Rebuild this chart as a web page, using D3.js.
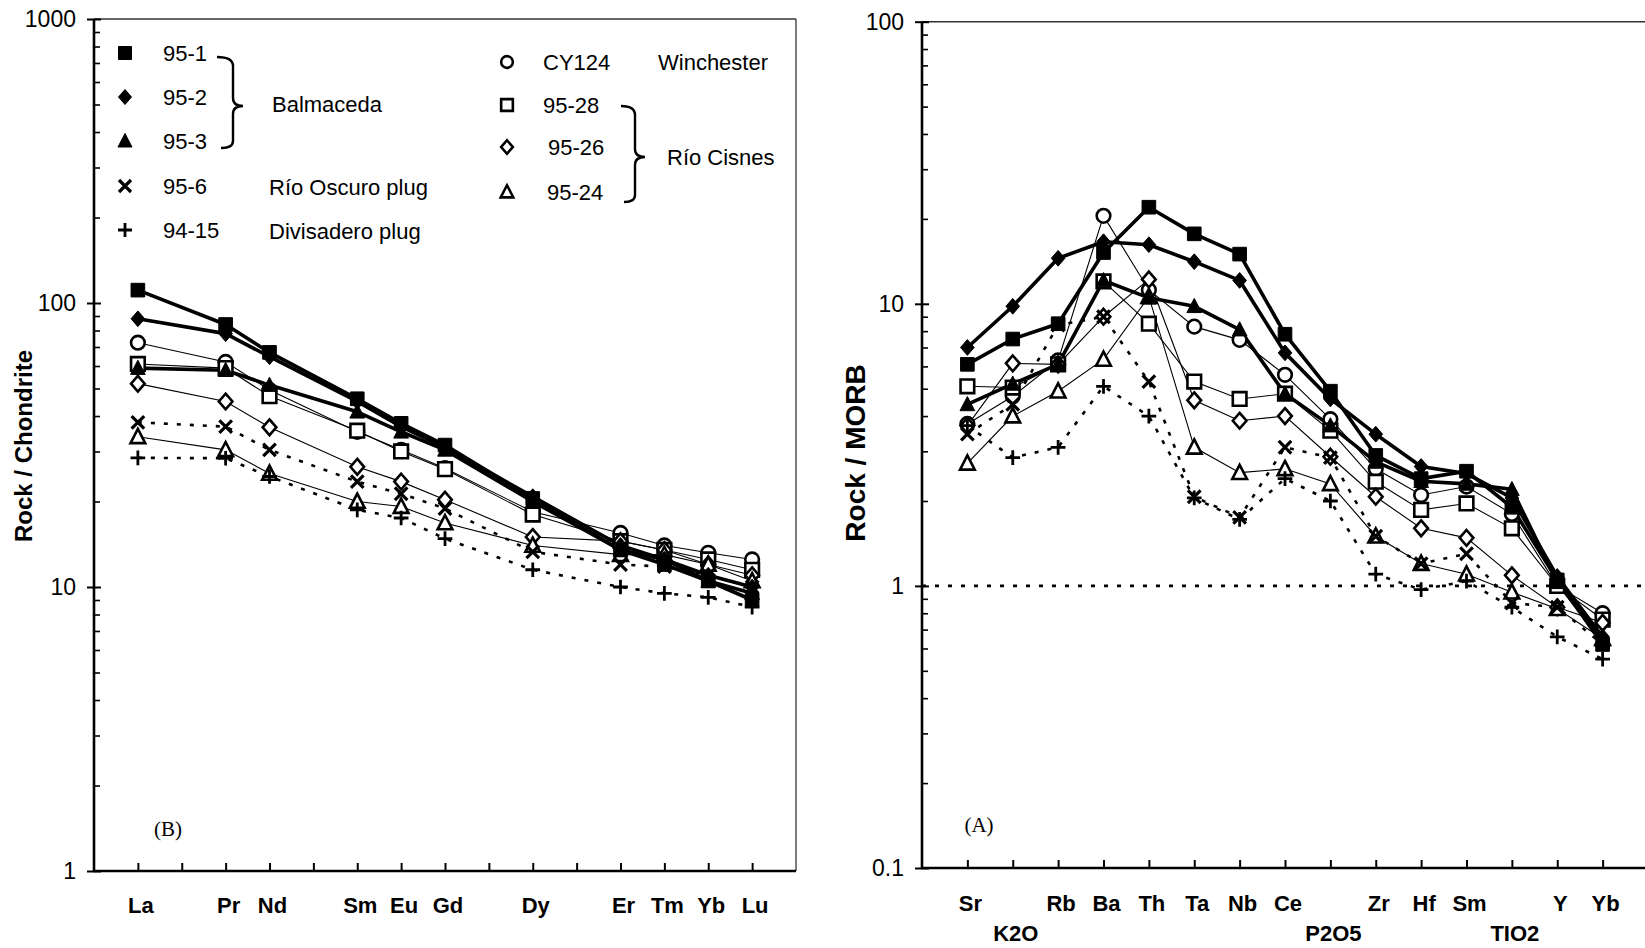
<!DOCTYPE html>
<html>
<head>
<meta charset="utf-8">
<script src="https://cdn.jsdelivr.net/npm/d3@7/dist/d3.min.js"></script>
<style>
  body { margin: 0; background: #fff; }
  svg text { font-family: "Liberation Sans", Arial, sans-serif; fill: #000; }
</style>
</head>
<body>
<div id="chart"></div>
<script>
const width = 1645,
  height = 948;

// ----------------- DONNEES ----------------- //
// echantillons (meme ordre dans toutes les listes)
const samples = ["95-1", "95-2", "95-3", "95-6", "94-15", "CY124", "95-28", "95-26", "95-24"];

// (B) terres rares normalisees aux chondrites
const reeElements = ["La", "Ce", "Pr", "Nd", "Pm", "Sm", "Eu", "Gd", "Tb", "Dy", "Ho", "Er", "Tm", "Yb", "Lu"];
const reeLabels = ["La", "", "Pr", "Nd", "", "Sm", "Eu", "Gd", "", "Dy", "", "Er", "Tm", "Yb", "Lu"];
const reePlotted = ["La", "Pr", "Nd", "Sm", "Eu", "Gd", "Dy", "Er", "Tm", "Yb", "Lu"];
const ree_95_1 = [111, 84, 67, 46, 37.7, 31.6, 20.5, 13.5, 12, 10.5, 9.0];
const ree_95_2 = [88, 78, 64.7, 45, 36.7, 31, 20.8, 14, 12.5, 11, 10];
const ree_95_3 = [59, 58, 51.4, 41.4, 35.2, 30.4, 20, 13.5, 12.5, 10.5, 9.5];
const ree_95_6 = [38, 36.7, 30.4, 23.5, 21.3, 18.9, 13.3, 12, 11.8, 11, 10];
const ree_94_15 = [28.5, 28.4, 24.5, 18.7, 17.5, 14.8, 11.5, 10, 9.5, 9.2, 8.5];
const ree_CY124 = [72.5, 62, 49.4, 35.2, 30.4, 26.2, 18.4, 15.5, 14, 13.2, 12.5];
const ree_95_28 = [61, 59, 47, 35.5, 30, 26, 18, 14.5, 13.5, 12.5, 11.5];
const ree_95_26 = [52, 45, 36.5, 26.5, 23.5, 20.3, 15, 14.5, 13.5, 12, 11];
const ree_95_24 = [33.8, 30.4, 25.1, 20, 19.2, 16.8, 14, 13, 13, 12, 10.5];

// (A) diagramme multi-elements normalise au MORB
const morbElements = ["Sr", "K2O", "Rb", "Ba", "Th", "Ta", "Nb", "Ce", "P2O5", "Zr", "Hf", "Sm", "TIO2", "Y", "Yb"];
const morbLabelsTop = ["Sr", "", "Rb", "Ba", "Th", "Ta", "Nb", "Ce", "", "Zr", "Hf", "Sm", "", "Y", "Yb"];
const morbLabelsBottom = ["", "K2O", "", "", "", "", "", "", "P2O5", "", "", "", "TIO2", "", ""];
const morb_95_1 = [6.1, 7.5, 8.5, 15.2, 22, 17.7, 15, 7.8, 4.9, 2.9, 2.4, 2.55, 1.9, 1.05, 0.62];
const morb_95_2 = [7.0, 9.8, 14.5, 16.6, 16.2, 14.1, 12.1, 6.7, 4.6, 3.45, 2.65, 2.5, 2.05, 1.08, 0.66];
const morb_95_3 = [4.4, 5.2, 6.1, 12.1, 10.5, 9.8, 8.1, 4.8, 3.7, 2.75, 2.35, 2.3, 2.2, 1.03, 0.64];
const morb_95_6 = [3.45, 4.4, 8.4, 9.0, 5.3, 2.07, 1.75, 3.1, 2.85, 1.5, 1.2, 1.3, 0.87, 0.84, 0.62];
const morb_94_15 = [3.7, 2.85, 3.1, 5.1, 4.0, 2.05, 1.72, 2.4, 2.0, 1.1, 0.97, 1.04, 0.84, 0.66, 0.55];
const morb_CY124 = [3.75, 4.7, 6.3, 20.5, 11.2, 8.3, 7.45, 5.6, 3.9, 2.6, 2.1, 2.25, 1.8, 1.0, 0.8];
const morb_95_28 = [5.1, 5.05, 6.1, 12.0, 8.5, 5.3, 4.6, 4.8, 3.55, 2.34, 1.86, 1.96, 1.6, 1.0, 0.76];
const morb_95_26 = [3.7, 6.15, 6.1, 9.0, 12.2, 4.55, 3.85, 4.0, 2.87, 2.07, 1.6, 1.48, 1.09, 0.84, 0.74];
const morb_95_24 = [2.72, 4.0, 4.9, 6.35, 10.6, 3.1, 2.52, 2.6, 2.3, 1.5, 1.2, 1.1, 0.95, 0.83, 0.65];

const reeData = [ree_95_1, ree_95_2, ree_95_3, ree_95_6, ree_94_15, ree_CY124, ree_95_28, ree_95_26, ree_95_24];
const morbData = [morb_95_1, morb_95_2, morb_95_3, morb_95_6, morb_94_15, morb_CY124, morb_95_28, morb_95_26, morb_95_24];

// legende
const legendLeft = ["95-1", "95-2", "95-3", "95-6", "94-15"];
const legendRight = ["CY124", "95-28", "95-26", "95-24"];

// ----------------- STYLES ----------------- //
const shapes = ["square", "diamond", "triangle", "x", "plus", "circle", "square", "diamond", "triangle"];
const filled = [true, true, true, false, false, false, false, false, false];
const lineKind = ["thick", "thick", "thick", "dotted", "dotted", "thin", "thin", "thin", "thin"];

function markerPath(shape, k) {
  // k = facteur d'echelle
  const s = 6.5 * k;
  if (shape === "square") return `M${-s},${-s}h${2 * s}v${2 * s}h${-2 * s}Z`;
  if (shape === "diamond") return `M0,${-7.5 * k}L${6.5 * k},0L0,${7.5 * k}L${-6.5 * k},0Z`;
  if (shape === "triangle") return `M0,${-7.5 * k}L${7 * k},${6 * k}L${-7 * k},${6 * k}Z`;
  if (shape === "circle") return `M${s},0A${s},${s} 0 1,1 ${-s},0A${s},${s} 0 1,1 ${s},0Z`;
  if (shape === "x") return `M${-6 * k},${-6 * k}L${6 * k},${6 * k}M${6 * k},${-6 * k}L${-6 * k},${6 * k}`;
  return `M${-7 * k},0L${7 * k},0M0,${-7 * k}L0,${7 * k}`;
}

function styleMarker(sel, i) {
  const sh = shapes[i];
  if (sh === "x" || sh === "plus") {
    sel.attr("fill", "none").attr("stroke", "#000").attr("stroke-width", sh === "x" ? 3.2 : 2.8);
  } else if (filled[i]) {
    sel.attr("fill", "#000").attr("stroke", "#000").attr("stroke-width", 1);
  } else {
    sel.attr("fill", "#fff").attr("stroke", "#000").attr("stroke-width", 2.6);
  }
}

const svg = d3.select("#chart").append("svg").attr("width", width).attr("height", height);

// ----------------- PANNEAU ----------------- //
function drawPanel(p) {
  const g = svg.append("g");
  const x0 = p.x.range()[0], x1 = p.x.range()[1];
  const yb = p.y.range()[0], yt = p.y.range()[1];

  // cadre : haut et droite fins
  g.append("line").attr("x1", x0).attr("x2", x1).attr("y1", yt).attr("y2", yt)
    .attr("stroke", "#333").attr("stroke-width", 1.6);
  g.append("line").attr("x1", x1).attr("x2", x1).attr("y1", yt).attr("y2", yb)
    .attr("stroke", "#444").attr("stroke-width", 1.4);

  // ticks mineurs (vers l'interieur)
  const [d0, d1] = p.y.domain();
  const minor = [];
  for (let e = d0; e < d1 * 0.99; e *= 10) {
    for (let m = 2; m <= 9; m++) minor.push(e * m);
  }
  g.append("g").attr("transform", `translate(${x0},0)`)
    .call(d3.axisRight(p.y).tickValues(minor).tickSize(6).tickFormat(""))
    .call((a) => a.select(".domain").remove())
    .selectAll("line").attr("stroke-width", 1.6);

  // ticks majeurs + etiquettes
  const major = [];
  for (let e = d0; e <= d1 * 1.01; e *= 10) major.push(e);
  const yAxis = g.append("g").attr("transform", `translate(${x0},0)`)
    .call(d3.axisLeft(p.y).tickValues(major).tickSize(7).tickPadding(11).tickFormat(p.fmt));
  yAxis.select(".domain").remove();
  yAxis.selectAll("line").attr("stroke-width", 2).attr("x2", -7).attr("x1", 7);
  yAxis.selectAll("text").style("font-size", "23px").style("font-family", "'Liberation Sans', Arial, sans-serif");

  // axe x : ticks vers le haut
  const xAxis = g.append("g").attr("transform", `translate(0,${yb})`)
    .call(d3.axisTop(p.x).tickSize(8).tickFormat(""));
  xAxis.select(".domain").remove();
  xAxis.selectAll("line").attr("stroke-width", 2);

  // axes epais gauche et bas
  g.append("line").attr("x1", x0).attr("x2", x0).attr("y1", yt).attr("y2", yb + 1)
    .attr("stroke", "#000").attr("stroke-width", 2.6);
  g.append("line").attr("x1", x0 - 1).attr("x2", x1).attr("y1", yb).attr("y2", yb)
    .attr("stroke", "#000").attr("stroke-width", 2.6);

  // etiquettes des elements
  p.labelRows.forEach((row, r) => {
    g.selectAll(null).data(p.x.domain()).enter().append("text")
      .attr("x", (d) => p.x(d) + 3)
      .attr("y", p.labelY[r])
      .attr("text-anchor", "middle")
      .attr("dy", "0.35em")
      .style("font-size", "22px").style("font-weight", "bold")
      .text((d, i) => row[i]);
  });

  // titre de l'axe y
  g.append("text")
    .attr("transform", `translate(${p.titleX},${p.titleY}) rotate(-90)`)
    .attr("text-anchor", "middle").attr("dy", "0.35em")
    .style("font-size", p.titleSize + "px").style("font-weight", "bold")
    .text(p.title);

  // lettre du panneau
  g.append("text").attr("x", p.tagX).attr("y", p.tagY).attr("dy", "0.35em")
    .attr("text-anchor", "middle")
    .style("font-family", "'Liberation Serif', 'Times New Roman', serif").style("font-size", "21px")
    .text(p.tag);

  // lignes de reference
  if (p.refLine) {
    g.append("line").attr("x1", x0).attr("x2", x1).attr("y1", p.y(p.refLine)).attr("y2", p.y(p.refLine))
      .attr("stroke", "#000").attr("stroke-width", 2.6).attr("stroke-dasharray", "4,9");
  }

  const line = d3.line().x((d) => p.x(d.el)).y((d) => p.y(d.v));
  const series = p.data.map((arr, i) => arr.map((v, j) => ({ el: p.plotted[j], v: v })));

  // lignes : fines, pointillees, puis epaisses
  ["thin", "dotted", "thick"].forEach((kind) => {
    series.forEach((s, i) => {
      if (lineKind[i] !== kind) return;
      const path = g.append("path").datum(s).attr("d", line).attr("fill", "none").attr("stroke", "#000");
      if (kind === "thin") path.attr("stroke-width", 1.1);
      if (kind === "thick") path.attr("stroke-width", 3.6).attr("stroke-linejoin", "round");
      if (kind === "dotted") path.attr("stroke-width", 2.6).attr("stroke-dasharray", "4,9");
    });
  });

  // marqueurs : ouverts d'abord, puis croix, puis pleins
  const order = [5, 6, 7, 8, 3, 4, 2, 1, 0];
  order.forEach((i) => {
    g.selectAll(null).data(series[i]).enter().append("path")
      .attr("transform", (d) => `translate(${p.x(d.el)},${p.y(d.v)})`)
      .attr("d", markerPath(shapes[i], 1.05))
      .call(styleMarker, i);
  });
}

// (B) REE
const xRee = d3.scalePoint().domain(reeElements).range([94, 796]).padding(1);
const yRee = d3.scaleLog().domain([1, 1000]).range([871, 19]);
drawPanel({
  x: xRee, y: yRee, plotted: reePlotted, data: reeData,
  fmt: d3.format("d"),
  labelRows: [reeLabels], labelY: [905],
  title: "Rock / Chondrite", titleX: 24, titleY: 446, titleSize: 24,
  tag: "(B)", tagX: 168, tagY: 829
});

// (A) MORB
const xMorb = d3.scalePoint().domain(morbElements).range([922, 1648]).padding(1);
const yMorb = d3.scaleLog().domain([0.1, 100]).range([868, 21.7]);
drawPanel({
  x: xMorb, y: yMorb, plotted: morbElements, data: morbData,
  fmt: (d) => (d < 1 ? "0.1" : d3.format("d")(d)),
  labelRows: [morbLabelsTop, morbLabelsBottom], labelY: [903, 933],
  title: "Rock / MORB", titleX: 855, titleY: 453, titleSize: 28,
  tag: "(A)", tagX: 979, tagY: 825, refLine: 1
});

// ----------------- LEGENDES ----------------- //
const leg = svg.append("g");
const rowsLeft = [53, 97, 141, 186, 230];
const rowsRight = [62, 105, 147, 192];
const textXRight = [543, 543, 548, 547];

legendLeft.forEach((name, k) => {
  const i = samples.indexOf(name);
  leg.append("path").attr("transform", `translate(125,${rowsLeft[k]})`)
    .attr("d", markerPath(shapes[i], 1.0)).call(styleMarker, i);
  leg.append("text").attr("x", 163).attr("y", rowsLeft[k]).attr("dy", "0.35em")
    .style("font-size", "22px").text(name);
});
legendRight.forEach((name, k) => {
  const i = samples.indexOf(name);
  leg.append("path").attr("transform", `translate(507,${rowsRight[k]})`)
    .attr("d", markerPath(shapes[i], 0.9)).call(styleMarker, i);
  leg.append("text").attr("x", textXRight[k]).attr("y", rowsRight[k]).attr("dy", "0.35em")
    .style("font-size", "22px").text(name);
});

const groups = [
  { label: "Balmaceda", x: 272, y: 104 },
  { label: "Río Oscuro plug", x: 269, y: 187 },
  { label: "Divisadero plug", x: 269, y: 231 },
  { label: "Winchester", x: 658, y: 62 },
  { label: "Río Cisnes", x: 667, y: 157 }
];
leg.selectAll(null).data(groups).enter().append("text")
  .attr("x", (d) => d.x).attr("y", (d) => d.y).attr("dy", "0.35em")
  .style("font-size", "22px").text((d) => d.label);

// accolades
leg.append("path")
  .attr("d", "M217,57 Q233,57 233,66 L233,98 Q233,106 243,106 Q233,106 233,114 L233,141 Q233,148 221,148")
  .attr("fill", "none").attr("stroke", "#000").attr("stroke-width", 2.4);
leg.append("path")
  .attr("d", "M621,106 Q635,106 635,115 L635,149 Q635,157 645,157 Q635,157 635,165 L635,195 Q635,202 624,202")
  .attr("fill", "none").attr("stroke", "#000").attr("stroke-width", 2.4);
</script>
</body>
</html>
